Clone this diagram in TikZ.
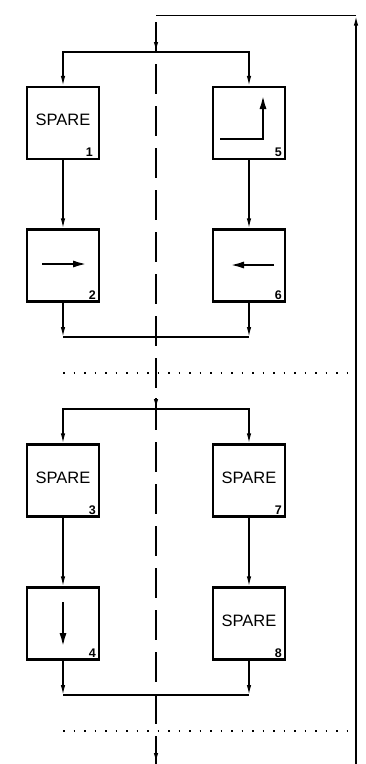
\documentclass[tikz,border=0pt]{standalone}
\usepackage{fontspec}
\setmainfont{Liberation Sans}
\usetikzlibrary{arrows.meta,calc}
\begin{document}
\begin{tikzpicture}[x=1pt,y=-1pt,
  conn/.style={line width=1.4pt},
  arr/.style={line width=1.4pt,-{Latex[length=10pt,width=4.5pt]}},
  blk/.style={draw,line width=2.2pt,minimum width=72pt,minimum height=72pt,inner sep=0pt},
  sym/.style={line width=2.6pt,-{Latex[length=15pt,width=7pt]}},
  spare/.style={font=\fontsize{16.5}{16.5}\selectfont},
  num/.style={font=\fontsize{12.5}{12.5}\selectfont\bfseries,anchor=south east,inner sep=0pt},
  centerline/.style={line width=1.6pt,dash pattern=on 30pt off 12pt},
  dots/.style={line width=1.8pt,dash pattern=on 1.5pt off 9pt},
]
\useasboundingbox (0,0) rectangle (366,764);
% boxes
\node[blk] (b1) at (63,123) {};
\node[blk] (b5) at (249,123) {};
\node[blk] (b2) at (63,265.5) {};
\node[blk] (b6) at (249,265.5) {};
\node[blk] (b3) at (63,480.5) {};
\node[blk] (b7) at (249,480.5) {};
\node[blk] (b4) at (63,623.5) {};
\node[blk] (b8) at (249,623.5) {};
% texts
\node[spare] (t1) at ($(b1.center)+(0,-3)$) {SPARE};
\node[spare] (t3) at ($(b3.center)+(0,-3)$) {SPARE};
\node[spare] (t7) at ($(b7.center)+(0,-3)$) {SPARE};
\node[spare] (t8) at ($(b8.center)+(0,-3)$) {SPARE};
\node[num] (n1) at ($(b1.south east)+(-7,-3)$) {1};
\node[num] (n2) at ($(b2.south east)+(-4,-3)$) {2};
\node[num] (n3) at ($(b3.south east)+(-4,-3)$) {3};
\node[num] (n4) at ($(b4.south east)+(-4,-3)$) {4};
\node[num] (n5) at ($(b5.south east)+(-4,-3)$) {5};
\node[num] (n6) at ($(b6.south east)+(-4,-3)$) {6};
\node[num] (n7) at ($(b7.south east)+(-4,-3)$) {7};
\node[num] (n8) at ($(b8.south east)+(-4,-3)$) {8};
% symbols inside boxes
\coordinate (s5a) at (220,139);
\coordinate (s5b) at (263,139);
\coordinate (s5c) at (263,94);
\draw[sym] (s5a) -- (s5b) -- (s5c);
\coordinate (s2a) at (42,264);
\coordinate (s2b) at (88,264);
\draw[sym] (s2a) -- (s2b);
\coordinate (s6a) at (274,265);
\coordinate (s6b) at (229,265);
\draw[sym] (s6a) -- (s6b);
\coordinate (s4a) at (63,602);
\coordinate (s4b) at (63,648);
\draw[sym] (s4a) -- (s4b);
% junction coordinates
\coordinate (sp1) at (156,52);
\coordinate (mg1) at (156,337);
\coordinate (sp2) at (156,409);
\coordinate (mg2) at (156,695);
% center line
\coordinate (c0) at (156,22);
\coordinate (c1) at (156,764);
\draw[centerline] (c0) -- (c1);
\coordinate (a1) at (156,40);
\draw[arr,line width=1.6pt] (a1) -- (sp1);
\coordinate (a2) at (156,398);
\draw[arr,line width=1.6pt] (a2) -- (sp2);
\coordinate (a3) at (156,736);
\coordinate (a3e) at (156,763);
\draw[arr,line width=1.6pt] (a3) -- (a3e);
% right return line
\coordinate (rb) at (356,764);
\coordinate (rt) at (356,15.5);
\coordinate (tl) at (156,15.5);
\draw[arr,line width=1.6pt] (rb) -- (rt);
\draw[line width=1.6pt] (rt) -- (tl);
% upper group
\draw[arr] (sp1) -| (b1.north);
\draw[arr] (sp1) -| (b5.north);
\draw[arr] (b1.south) -- (b2.north);
\draw[arr] (b5.south) -- (b6.north);
\draw[arr] (b2.south) -- (b2.south |- mg1);
\draw[arr] (b6.south) -- (b6.south |- mg1);
\draw[conn] (b2.south |- mg1) -- (b6.south |- mg1);
% lower group
\draw[arr] (sp2) -| (b3.north);
\draw[arr] (sp2) -| (b7.north);
\draw[arr] (b3.south) -- (b4.north);
\draw[arr] (b7.south) -- (b8.north);
\draw[arr] (b4.south) -- (b4.south |- mg2);
\draw[arr] (b8.south) -- (b8.south |- mg2);
\draw[conn] (b4.south |- mg2) -- (b8.south |- mg2);
% dotted separators
\coordinate (d1a) at (63,373);
\coordinate (d1b) at (351,373);
\draw[dots] (d1a) -- (d1b);
\coordinate (d2a) at (63,731);
\coordinate (d2b) at (351,731);
\draw[dots] (d2a) -- (d2b);
\end{tikzpicture}
\end{document}
